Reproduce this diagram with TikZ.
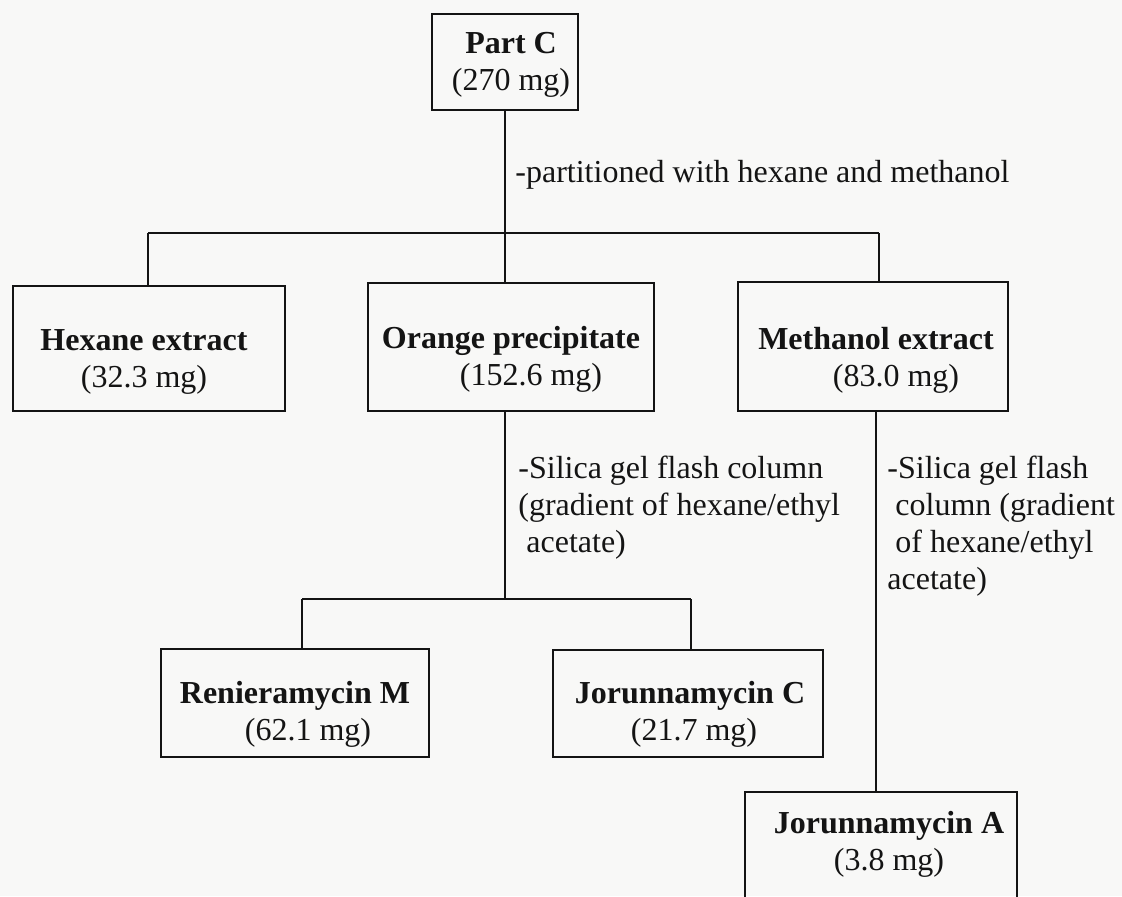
\documentclass[tikz,border=0pt]{standalone}
\usepackage{fontspec}
\setmainfont{Liberation Serif}
\definecolor{paper}{RGB}{248,248,247}
\definecolor{ink}{RGB}{20,20,20}
% two centred lines, baseline at the first one
\newcommand\boxtext[2]{\begin{tabular}[t]{@{}c@{}}#1\\#2\end{tabular}}
% left-aligned stacked lines, baseline at the first one
\newcommand\notetext[1]{\begin{tabular}[t]{@{}l@{}}#1\end{tabular}}
\begin{document}
\begin{tikzpicture}[x=0.5pt,y=-0.5pt,
  box/.style={draw=ink, line width=1.3pt, rectangle, inner sep=0pt},
  conn/.style={draw=ink, line width=1.2pt},
  txt/.style={inner sep=0pt, anchor=base, text=ink, font=\fontsize{16pt}{18.5pt}\selectfont},
  note/.style={inner sep=0pt, anchor=base west, text=ink, font=\fontsize{16pt}{18.5pt}\selectfont}]
\clip (0,0) rectangle (1122,896);
\fill[paper] (0,0) rectangle (1122,896);

% boxes
\node[box, minimum width=73pt,  minimum height=48pt]   (pc)  at (505,62)    {};
\node[box, minimum width=136pt, minimum height=62.5pt] (hex) at (149,348.5) {};
\node[box, minimum width=143pt, minimum height=64pt]   (ora) at (511,347)   {};
\node[box, minimum width=135pt, minimum height=64.5pt] (met) at (873,346.5) {};
\node[box, minimum width=134pt, minimum height=54pt]   (ren) at (295,703)   {};
\node[box, minimum width=135pt, minimum height=53.5pt] (jc)  at (688,703.5) {};
\node[box, minimum width=136pt, minimum height=64pt]   (ja)  at (881,856)   {};

% box contents
\node[txt] (pcT)  at (511,53)  {\boxtext{\textbf{Part C}}{(270 mg)}};
\node[txt] (hexT) at (144,350) {\boxtext{\textbf{Hexane extract}}{(32.3 mg)}};
\node[txt] (oraT) at (511,348) {\boxtext{\textbf{Orange precipitate}}{\hspace*{20pt}(152.6 mg)}};
\node[txt] (metT) at (876,349) {\boxtext{\textbf{Methanol extract}}{\hspace*{20pt}(83.0 mg)}};
\node[txt] (renT) at (295,703) {\boxtext{\textbf{Renieramycin M}}{\hspace*{13pt}(62.1 mg)}};
\node[txt] (jcT)  at (690,703) {\boxtext{\textbf{Jorunnamycin C}}{\hspace*{4pt}(21.7 mg)}};
\node[txt] (jaT)  at (889,833) {\boxtext{\textbf{Jorunnamycin A}}{(3.8 mg)}};

% junction points
\coordinate (j1)  at (505,233);
\coordinate (j1L) at (148,233);
\coordinate (j1R) at (879,233);
\coordinate (j2)  at (505,599);
\coordinate (j2L) at (302,599);
\coordinate (j2R) at (691,599);

% partition step
\draw[conn] (pc.south) -- (j1);
\draw[conn] (j1L) -- (j1R);
\draw[conn] (j1L) -- (j1L |- hex.north);
\draw[conn] (j1) -- (j1 |- ora.north);
\draw[conn] (j1R) -- (j1R |- met.north);

% column on the orange precipitate
\draw[conn] (j2 |- ora.south) -- (j2);
\draw[conn] (j2L) -- (j2R);
\draw[conn] (j2L) -- (j2L |- ren.north);
\draw[conn] (j2R) -- (j2R |- jc.north);

% column on the methanol extract
\draw[conn] ([xshift=1.5pt]met.south) -- ([xshift=-2.5pt]ja.north);

% step notes
\node[note] (n1) at (515,182) {-partitioned with hexane and methanol};
\node[note] (n2) at (518,478) {\notetext{-Silica gel flash column\\(gradient of hexane/ethyl\\\hspace*{4pt}acetate)}};
\node[note] (n3) at (887,478) {\notetext{-Silica gel flash\\\hspace*{4pt}column (gradient\\\hspace*{4pt}of hexane/ethyl\\acetate)}};
\end{tikzpicture}
\end{document}
